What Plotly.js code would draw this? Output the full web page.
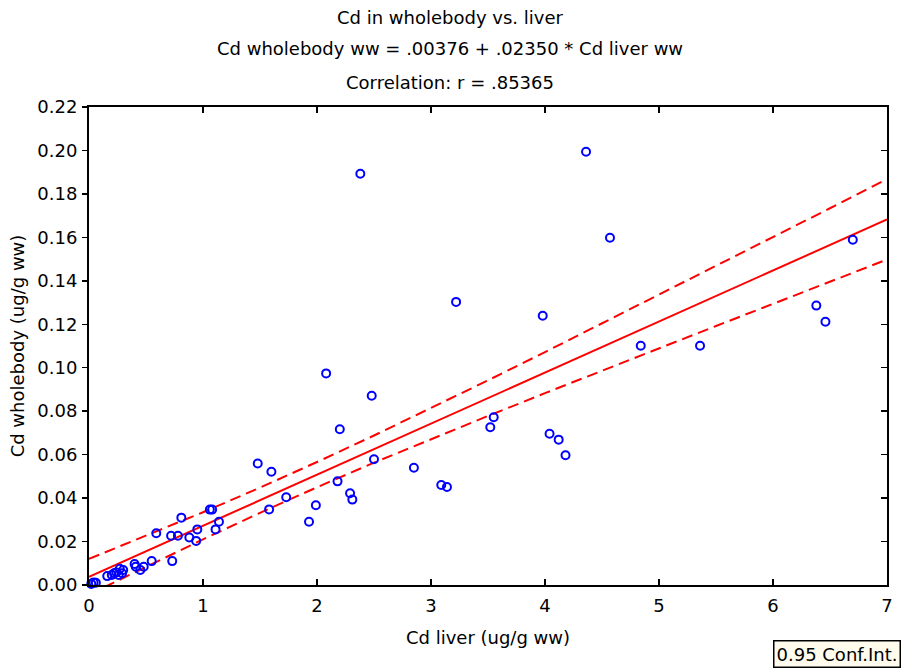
<!DOCTYPE html>
<html>
<head>
<meta charset="utf-8">
<script src="https://cdn.plot.ly/plotly-3.0.1.min.js"></script>
<style>
  html, body { margin: 0; padding: 0; background: #ffffff; }
  #chart { width: 901px; height: 670px; }
</style>
</head>
<body>
<div id="chart"></div>
<script>
// Cd concentrations (ug/g wet weight): liver vs. whole body
const liverCd = [0.02, 0.04, 0.06, 0.16, 0.20, 0.22, 0.24, 0.26, 0.27, 0.29, 0.30,
  0.40, 0.41, 0.45, 0.48, 0.55, 0.59, 0.73, 0.72, 0.78, 0.81, 0.88, 0.94, 0.95,
  1.06, 1.08, 1.11, 1.14, 1.48, 1.60, 1.58, 1.73, 1.93, 1.99, 2.08, 2.18, 2.20,
  2.29, 2.31, 2.38, 2.48, 2.50, 2.85, 3.09, 3.14, 3.22, 3.52, 3.55, 3.98, 4.04,
  4.12, 4.18, 4.36, 4.57, 4.84, 5.36, 6.38, 6.46, 6.70];
const wholebodyCd = [0.0005, 0.0012, 0.0010, 0.0041, 0.0046, 0.0054, 0.0058, 0.0046, 0.0075, 0.0054, 0.0069,
  0.0097, 0.0084, 0.0069, 0.0084, 0.0110, 0.0238, 0.0110, 0.0227, 0.0227, 0.0310, 0.0219, 0.0203, 0.0256,
  0.0347, 0.0347, 0.0256, 0.0291, 0.0559, 0.0521, 0.0348, 0.0404, 0.0291, 0.0367, 0.0974, 0.0477, 0.0717,
  0.0422, 0.0393, 0.1893, 0.0871, 0.0579, 0.0540, 0.0460, 0.0451, 0.1303, 0.0726, 0.0772, 0.1239, 0.0696,
  0.0669, 0.0597, 0.1994, 0.1598, 0.1101, 0.1101, 0.1286, 0.1212, 0.1589];

// Fitted line: Cd wholebody ww = .00376 + .02350 * Cd liver ww
const intercept = 0.00376;
const slope = 0.02350;
const fitRange = [0, 7];

// 0.95 confidence band of the fit
const bandX = [0, 0.5, 1, 1.5, 2, 2.5, 3, 3.5, 4, 4.5, 5, 5.5, 6, 6.5, 7];
const bandUpper = [0.0120, 0.0226, 0.0335, 0.0448, 0.0566, 0.0688, 0.0814, 0.0942,
  0.1072, 0.1204, 0.1336, 0.1468, 0.1601, 0.1734, 0.1868];
const bandLower = [-0.0044, 0.0084, 0.0210, 0.0332, 0.0450, 0.0563, 0.0672, 0.0778,
  0.0883, 0.0987, 0.1089, 0.1192, 0.1294, 0.1396, 0.1498];

const titleLines = [
  'Cd in wholebody vs. liver',
  'Cd wholebody ww = .00376 + .02350 * Cd liver ww',
  'Correlation: r = .85365'
];
const xTitle = 'Cd liver (ug/g ww)';
const yTitle = 'Cd wholebody (ug/g ww)';
const bandLabel = '0.95 Conf.Int.';

const FONT = 'DejaVu Sans, Arial, sans-serif';
const FS = 18;
const RED = '#ff0000';
const BLUE = '#0000ff';
const yRange = [0, 0.22];

const traces = [
  {
    x: bandX, y: bandUpper, mode: 'lines', type: 'scatter',
    line: { color: RED, width: 2, dash: '11px,6px' }, hoverinfo: 'skip'
  },
  {
    x: bandX, y: bandLower, mode: 'lines', type: 'scatter',
    line: { color: RED, width: 2, dash: '11px,6px' }, hoverinfo: 'skip'
  },
  {
    x: fitRange, y: fitRange.map(v => intercept + slope * v),
    mode: 'lines', type: 'scatter',
    line: { color: RED, width: 2 }, hoverinfo: 'skip'
  },
  {
    x: liverCd, y: wholebodyCd, mode: 'markers', type: 'scatter',
    marker: { symbol: 'circle-open', size: 8, color: BLUE, line: { width: 2, color: BLUE } },
    cliponaxis: false
  },
  // carrier for the right-hand tick axis
  { x: [null], y: [null], yaxis: 'y2', type: 'scatter', mode: 'markers', hoverinfo: 'skip' }
];

const titleY = [1.188, 1.123, 1.052];
const annotations = titleLines.map((t, i) => ({
  text: t, xref: 'paper', yref: 'paper', x: 0.453, y: titleY[i],
  xanchor: 'center', yanchor: 'middle', showarrow: false,
  font: { family: FONT, size: FS, color: '#000000' }
}));
annotations.push({
  text: bandLabel, xref: 'paper', yref: 'paper', x: 1.0175, y: -0.144,
  xanchor: 'right', yanchor: 'middle', showarrow: false,
  bgcolor: '#fffcee', bordercolor: '#000000', borderwidth: 1.5, borderpad: 2,
  font: { family: FONT, size: FS, color: '#000000' }
});

const layout = {
  width: 901, height: 670,
  margin: { l: 89, r: 14, t: 107, b: 85 },
  paper_bgcolor: '#ffffff', plot_bgcolor: '#ffffff',
  showlegend: false,
  font: { family: FONT, size: FS, color: '#000000' },
  xaxis: {
    range: [0, 7], dtick: 1, tick0: 0, showgrid: false, zeroline: false,
    showline: true, linecolor: '#000000', linewidth: 2, mirror: 'ticks',
    ticks: 'inside', ticklen: 6, tickwidth: 1.5, tickcolor: '#000000',
    ticklabelstandoff: 3,
    title: { text: xTitle, standoff: 17, font: { family: FONT, size: FS } }
  },
  yaxis: {
    range: yRange, dtick: 0.02, tick0: 0, tickformat: '.2f',
    showgrid: false, zeroline: false,
    showline: true, linecolor: '#000000', linewidth: 2, mirror: true,
    ticks: 'outside', ticklen: 5, tickwidth: 1.5, tickcolor: '#000000',
    ticklabelstandoff: 1,
    title: { text: yTitle, standoff: 8, font: { family: FONT, size: FS } }
  },
  yaxis2: {
    overlaying: 'y', side: 'right', range: yRange, dtick: 0.02, tick0: 0,
    showgrid: false, zeroline: false, showline: false, showticklabels: false,
    ticks: 'inside', ticklen: 6, tickwidth: 1.5, tickcolor: '#000000'
  },
  annotations: annotations
};

Plotly.newPlot('chart', traces, layout, { displayModeBar: false, staticPlot: true });
</script>
</body>
</html>
